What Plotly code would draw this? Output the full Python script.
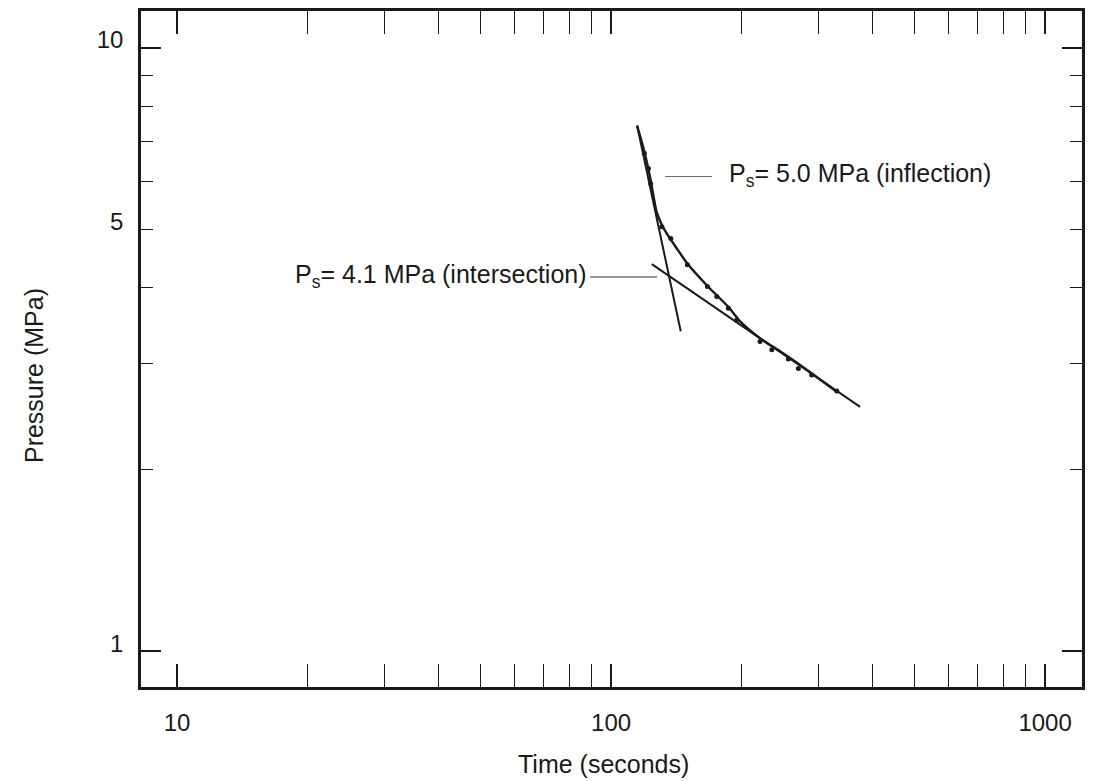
import math
import plotly.graph_objects as go

# Measured pressure decline after shut-in (time in s, pressure in MPa)
obs_time = [119.3, 121.9, 123.4, 130.9, 137.3, 149.9, 166.7, 175.2, 186.3, 194.8,
            220.4, 234.6, 256.1, 270.1, 290.0, 331.1]
obs_pressure = [6.69, 6.31, 5.95, 5.05, 4.83, 4.37, 4.02, 3.87, 3.70, 3.54,
                3.26, 3.16, 3.05, 2.94, 2.87, 2.70]

# Smoothed decline curve
fit_time = [114.8, 119.1, 123.0, 127.4, 130.9, 134.4, 141.7, 149.9, 166.7, 186.3,
            198.3, 220.4, 245.1, 272.6, 333.4]
fit_pressure = [7.43, 6.76, 6.10, 5.34, 5.09, 4.92, 4.65, 4.39, 4.03, 3.72,
                3.52, 3.30, 3.14, 2.98, 2.68]

# Tangent lines (early steep and late shallow segments)
steep_time = [114.8, 144.7]
steep_pressure = [7.43, 3.39]
shallow_time = [124.1, 374.8]
shallow_pressure = [4.38, 2.54]

# Label leader lines
lead_inflect_time = [133.2, 171.0]
lead_inflect_p = [6.12, 6.12]
lead_inter_time = [89.5, 127.6]
lead_inter_p = [4.17, 4.17]

x_major = [10, 100, 1000]
x_minor = [m * d for d in (10, 100) for m in range(2, 10)]
y_labels = [1, 5, 10]
y_major = [1, 10]
y_minor = [2, 3, 4, 5, 6, 7, 8, 9]

INK = "#1a1a1a"
FONT = "Liberation Sans, Arial, sans-serif"

fig = go.Figure()

line_style = dict(color=INK, width=2)
fig.add_trace(go.Scatter(x=fit_time, y=fit_pressure, mode="lines",
                         line=dict(color=INK, width=2.4, shape="spline", smoothing=0.6),
                         hoverinfo="skip"))
fig.add_trace(go.Scatter(x=steep_time, y=steep_pressure, mode="lines", line=line_style))
fig.add_trace(go.Scatter(x=shallow_time, y=shallow_pressure, mode="lines", line=line_style))
fig.add_trace(go.Scatter(x=obs_time, y=obs_pressure, mode="markers",
                         marker=dict(color=INK, size=5)))
fig.add_trace(go.Scatter(x=lead_inflect_time, y=lead_inflect_p, mode="lines",
                         line=dict(color="#666", width=1)))
fig.add_trace(go.Scatter(x=lead_inter_time, y=lead_inter_p, mode="lines",
                         line=dict(color="#333", width=1.2)))
# overlay axis carrying the long decade ticks on the pressure axis
fig.add_trace(go.Scatter(x=[], y=[], yaxis="y2"))

x_range = [0.917, 3.085]
y_range = [-0.0594, 1.061]

fig.update_layout(
    width=1096, height=781,
    margin=dict(l=141, r=14, t=8, b=94),
    paper_bgcolor="white", plot_bgcolor="white",
    showlegend=False,
    font=dict(family=FONT, size=24, color=INK),
    xaxis=dict(
        type="log", range=x_range,
        tickvals=x_major, ticktext=[str(v) for v in x_major],
        ticks="inside", ticklen=23, tickwidth=1.5, tickcolor=INK,
        minor=dict(tickvals=x_minor, ticks="inside", ticklen=12, tickwidth=1.2, tickcolor=INK),
        showline=True, linewidth=2.5, linecolor=INK, mirror="allticks",
        showgrid=False, zeroline=False,
        ticklabelstandoff=12,
        tickfont=dict(size=24, family=FONT, color=INK),
    ),
    yaxis=dict(
        type="log", range=y_range,
        tickvals=y_labels, ticktext=[str(v) for v in y_labels],
        ticks="inside", ticklen=12, tickwidth=1.2, tickcolor=INK,
        minor=dict(tickvals=y_minor, ticks="inside", ticklen=12, tickwidth=1.2, tickcolor=INK),
        showline=True, linewidth=2.5, linecolor=INK, mirror="allticks",
        showgrid=False, zeroline=False,
        ticklabelstandoff=10, ticklabelshift=-8,
        tickfont=dict(size=24, family=FONT, color=INK),
    ),
    yaxis2=dict(
        type="log", range=y_range, overlaying="y", side="left",
        tickvals=y_major, showticklabels=False,
        ticks="inside", ticklen=20, tickwidth=1.5, tickcolor=INK,
        showline=True, linewidth=2.5, linecolor=INK, mirror="allticks",
        showgrid=False, zeroline=False,
    ),
)

fig.add_annotation(
    text="P<sub>s</sub>= 5.0 MPa (inflection)",
    x=math.log10(185.0), y=math.log10(6.12), xref="x", yref="y",
    xanchor="left", yanchor="middle", showarrow=False,
    font=dict(size=25, family=FONT, color=INK), yshift=1,
)
fig.add_annotation(
    text="P<sub>s</sub>= 4.1 MPa (intersection)",
    x=math.log10(89.0), y=math.log10(4.17), xref="x", yref="y",
    xanchor="right", yanchor="middle", showarrow=False,
    font=dict(size=25, family=FONT, color=INK), yshift=1,
)

fig.add_annotation(
    text="Time (seconds)", x=0.492, y=0, xref="paper", yref="paper",
    xanchor="center", yanchor="middle", yshift=-77, showarrow=False,
    font=dict(size=25, family=FONT, color=INK),
)
fig.add_annotation(
    text="Pressure (MPa)", x=0, y=0.46, xref="paper", yref="paper",
    xanchor="center", yanchor="middle", xshift=-107, textangle=-90, showarrow=False,
    font=dict(size=25, family=FONT, color=INK),
)

fig.write_html("out.html")
